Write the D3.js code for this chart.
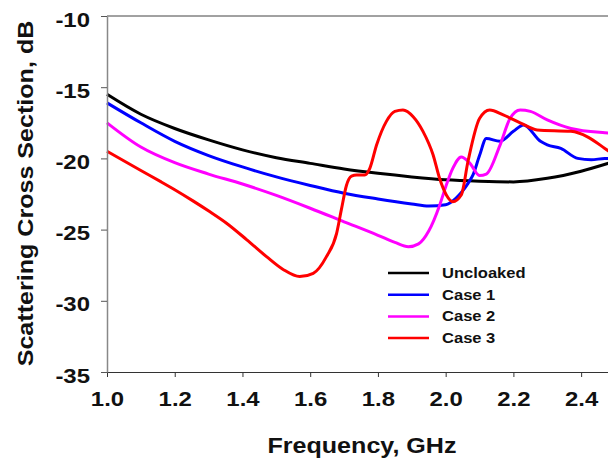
<!DOCTYPE html>
<html>
<head>
<meta charset="utf-8">
<script src="https://cdn.jsdelivr.net/npm/d3@7"></script>
<style>
  body { margin: 0; background: #fff; }
  text { font-family: "Liberation Sans", Arial, sans-serif; font-weight: bold; }
</style>
</head>
<body>
<div id="chart"></div>
<script>
// frequency in GHz, values in dB
const uncloakedF = [1.0, 1.1, 1.2, 1.3, 1.4, 1.5, 1.6, 1.7, 1.8, 1.9, 2.0, 2.1, 2.2, 2.3, 2.4, 2.5]
const uncloakedV = [-15.5, -16.9, -17.9, -18.7, -19.4, -19.95, -20.35, -20.75, -21.05, -21.3, -21.5, -21.6, -21.65, -21.4, -20.9, -20.2]

const case1F = [1.0, 1.1, 1.2, 1.3, 1.4, 1.5, 1.6, 1.7, 1.8, 1.9, 1.95, 2.0, 2.03, 2.066, 2.08, 2.1, 2.12, 2.16, 2.2, 2.23, 2.28, 2.3, 2.34, 2.39, 2.43, 2.47, 2.5]
const case1V = [-16.1, -17.5, -18.8, -19.8, -20.6, -21.3, -21.9, -22.45, -22.85, -23.2, -23.35, -23.25, -22.8, -21.75, -21.2, -19.8, -18.6, -18.8, -18.1, -17.65, -18.8, -19.05, -19.3, -20.0, -20.1, -20.0, -20.0]

const case2F = [1.0, 1.1, 1.2, 1.3, 1.4, 1.5, 1.6, 1.7, 1.8, 1.85, 1.89, 1.92, 1.95, 1.982, 2.0, 2.021, 2.046, 2.07, 2.1, 2.12, 2.16, 2.19, 2.22, 2.25, 2.3, 2.37, 2.47, 2.5]
const case2V = [-17.5, -19.2, -20.3, -21.1, -21.8, -22.6, -23.5, -24.45, -25.4, -25.9, -26.2, -26.0, -25.1, -23.3, -22.0, -20.7, -19.9, -20.3, -21.2, -21.1, -19.1, -17.2, -16.6, -16.7, -17.3, -17.9, -18.2, -18.25]

const case3F = [1.0, 1.1, 1.16, 1.2, 1.255, 1.304, 1.353, 1.412, 1.471, 1.52, 1.569, 1.609, 1.648, 1.678, 1.692, 1.707, 1.722, 1.737, 1.761, 1.776, 1.796, 1.825, 1.85, 1.874, 1.904, 1.933, 1.963, 1.982, 2.002, 2.021, 2.046, 2.066, 2.1, 2.13, 2.17, 2.22, 2.27, 2.37, 2.42, 2.47, 2.5]
const case3V = [-19.5, -20.85, -21.65, -22.2, -23.0, -23.75, -24.55, -25.7, -26.9, -27.8, -28.3, -28.07, -26.9, -25.26, -23.6, -21.9, -21.25, -21.17, -21.17, -20.7, -19.06, -17.4, -16.7, -16.6, -17.07, -18.1, -19.76, -21.4, -22.57, -23.04, -22.57, -20.2, -17.2, -16.6, -16.95, -17.5, -18.0, -18.1, -18.5, -19.3, -19.8]

const seriesNames = ["Uncloaked", "Case 1", "Case 2", "Case 3"]
const seriesColors = ["#000000", "#0000ff", "#ff00ff", "#ff0000"]
const xTicks = [1.0, 1.2, 1.4, 1.6, 1.8, 2.0, 2.2, 2.4]
const yTicks = [-35, -30, -25, -20, -15, -10]

const series = [
  {name: seriesNames[0], f: uncloakedF, v: uncloakedV},
  {name: seriesNames[1], f: case1F, v: case1V},
  {name: seriesNames[2], f: case2F, v: case2V},
  {name: seriesNames[3], f: case3F, v: case3V}
].map((s, i) => ({name: s.name, color: seriesColors[i], pts: s.f.map((f, j) => ({f: f, v: s.v[j]}))}))

const params = {
  fullWidth: 608,
  fullHeight: 466,
  leftMargin: 107,
  topMargin: 16,
  plotWidth: 508,
  plotHeight: 356
}

const svg = d3.select("#chart").append("svg")
  .attr("width", params.fullWidth)
  .attr("height", params.fullHeight)

const g = svg.append("g")
  .attr("transform", `translate(${params.leftMargin},${params.topMargin})`)

const x = d3.scaleLinear().domain([1.0, 2.5]).range([0, params.plotWidth])
const y = d3.scaleLinear().domain([-35, -10]).range([params.plotHeight, 0])

// top frame line
g.append("line")
  .attr("x1", 0).attr("x2", params.plotWidth)
  .attr("y1", 0).attr("y2", 0)
  .attr("stroke", "#444").attr("stroke-width", 1)

// lines
const line = d3.line()
  .x(d => x(d.f))
  .y(d => y(d.v))
  .curve(d3.curveMonotoneX)

g.selectAll("path.series")
  .data(series)
  .enter().append("path")
  .attr("class", "series")
  .attr("fill", "none")
  .attr("stroke", d => d.color)
  .attr("stroke-width", 3)
  .attr("stroke-linejoin", "round")
  .attr("d", d => line(d.pts))

// axes
const xAxisGroup = g.append("g")
  .attr("transform", `translate(0,${params.plotHeight})`)
  .call(d3.axisBottom(x).tickValues(xTicks).tickFormat(d3.format(".1f")).tickSize(5).tickSizeOuter(0))
xAxisGroup.select(".domain").attr("stroke", "#333").attr("stroke-width", 1.2)
xAxisGroup.selectAll(".tick line").attr("stroke", "#333")
xAxisGroup.selectAll("text")
  .attr("font-size", "21px")
  .attr("fill", "#111")
  .attr("y", 19)

const yAxisGroup = g.append("g")
  .call(d3.axisLeft(y).tickValues(yTicks).tickFormat(d => d).tickSize(6).tickSizeOuter(0))
yAxisGroup.select(".domain").attr("stroke", "#888").attr("stroke-width", 1.5)
yAxisGroup.selectAll(".tick line").attr("stroke", "#555")
yAxisGroup.selectAll("text")
  .attr("font-size", "21px")
  .attr("fill", "#111")
  .attr("x", -17)
  .attr("dy", "0.48em")

// axis titles
g.append("text")
  .attr("x", 255)
  .attr("y", params.plotHeight + 81)
  .attr("text-anchor", "middle")
  .attr("font-size", "22px")
  .attr("fill", "#111")
  .text("Frequency, GHz")

g.append("text")
  .attr("transform", "rotate(-90)")
  .attr("x", -177.5)
  .attr("y", -74)
  .attr("text-anchor", "middle")
  .attr("font-size", "22px")
  .attr("fill", "#111")
  .text("Scattering Cross Section, dB")

// legend
const legend = g.append("g")
  .attr("transform", `translate(${388 - params.leftMargin},${273 - params.topMargin})`)
const rows = legend.selectAll("g")
  .data(series)
  .enter().append("g")
  .attr("transform", (d, i) => `translate(0,${i * 21.7})`)
rows.append("line")
  .attr("x1", 0).attr("x2", 41)
  .attr("stroke", d => d.color)
  .attr("stroke-width", 2.5)
rows.append("text")
  .attr("x", 54)
  .attr("y", 5)
  .attr("font-size", "14.5px")
  .attr("fill", "#111")
  .text(d => d.name)

// the original lettering is a bit wider than Liberation Sans Bold
svg.selectAll("text").each(function() {
  const w = this.getComputedTextLength()
  d3.select(this)
    .attr("textLength", w * 1.14)
    .attr("lengthAdjust", "spacingAndGlyphs")
})
</script>
</body>
</html>
